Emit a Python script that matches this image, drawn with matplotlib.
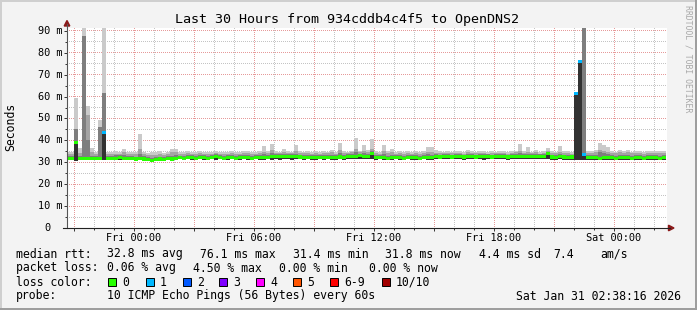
import numpy as np
import matplotlib
matplotlib.use('Agg')
import matplotlib.pyplot as plt
from matplotlib.colors import to_rgba
from matplotlib.lines import Line2D
from matplotlib.patches import Polygon, Rectangle

# ==============================================================================
# Data (hours relative to Fri 00:00, round-trip times in ms)
# ==============================================================================

BIN_START = -3.4
BIN_STEP = 0.2  # 12 minute consolidation steps

rtt_median = [
    31.8, 31.9, 39.0, 31.8, 31.9, 31.8, 31.7, 31.8, 31.9, 43.8,
    31.8, 31.9, 31.8, 32.0, 31.9, 31.8, 31.7, 31.5, 31.6, 31.5,
    31.1, 31.0, 31.2, 31.5, 31.4, 31.6, 31.5, 31.7, 32.0, 31.9,
    32.0, 32.1, 31.9, 32.0, 32.1, 31.9, 32.0, 32.6, 32.0, 31.9,
    32.0, 32.1, 31.9, 32.0, 32.2, 32.0, 31.9, 32.1, 32.0, 32.2,
    32.1, 32.6, 32.5, 32.7, 32.6, 32.5, 32.7, 32.6, 32.4, 32.2,
    32.3, 32.1, 32.2, 32.3, 32.1, 32.2, 32.3, 32.2, 32.4, 32.3,
    32.5, 32.8, 32.7, 32.9, 32.8, 32.7, 34.2, 32.1, 32.0, 32.1,
    31.9, 32.0, 32.1, 32.0, 31.9, 32.0, 32.1, 32.0, 31.9, 32.1,
    32.0, 32.2, 32.5, 32.4, 32.6, 32.5, 32.4, 32.6, 32.5, 32.4,
    32.5, 32.6, 32.4, 32.5, 32.6, 32.5, 32.4, 32.5, 32.6, 32.5,
    32.4, 32.5, 32.6, 32.7, 32.5, 32.6, 32.8, 32.6, 32.5, 32.7,
    34.0, 32.4, 32.3, 32.5, 32.4, 32.3, 32.4, 61.6, 75.8, 33.7,
    32.1, 32.0, 32.1, 31.9, 32.0, 32.1, 32.0, 31.9, 32.0, 32.1,
    32.0, 31.9, 32.0, 32.1, 31.9, 32.0, 32.1, 32.0, 31.9, 32.0,
]

rtt_min = [
    31.2, 31.1, 30.4, 31.2, 31.0, 31.1, 31.2, 31.1, 31.0, 31.0,
    31.2, 31.1, 31.2, 31.0, 31.1, 31.2, 31.0, 30.9, 31.0, 30.8,
    30.5, 30.4, 30.6, 30.9, 30.8, 31.0, 30.9, 31.1, 31.3, 31.2,
    31.3, 31.2, 31.1, 31.3, 31.2, 31.0, 31.3, 31.2, 31.3, 31.1,
    31.2, 31.3, 31.0, 31.2, 31.3, 31.2, 31.1, 31.3, 31.0, 31.2,
    31.3, 31.1, 31.4, 31.2, 31.3, 31.5, 31.2, 31.4, 31.3, 31.2,
    31.3, 31.1, 31.2, 31.4, 31.2, 31.3, 31.1, 31.2, 31.3, 31.2,
    31.4, 31.5, 31.3, 31.5, 31.4, 31.6, 31.3, 31.2, 31.3, 31.1,
    31.2, 31.0, 31.3, 31.2, 31.1, 31.3, 31.2, 31.0, 31.2, 31.3,
    31.1, 31.2, 31.4, 31.3, 31.5, 31.4, 31.3, 31.5, 31.4, 31.2,
    31.4, 31.5, 31.3, 31.4, 31.2, 31.5, 31.3, 31.4, 31.5, 31.3,
    31.2, 31.4, 31.5, 31.3, 31.4, 31.5, 31.6, 31.4, 31.3, 31.5,
    31.6, 31.2, 31.1, 31.3, 31.2, 31.1, 31.2, 31.0, 31.0, 31.0,
    31.2, 31.1, 31.2, 31.0, 31.1, 31.2, 31.1, 31.0, 31.2, 31.1,
    31.2, 31.0, 31.1, 31.2, 31.0, 31.1, 31.2, 31.1, 31.0, 31.2,
]

rtt_p8 = [
    32.9, 33.0, 45.0, 33.0, 87.7, 40.0, 33.0, 32.9, 46.3, 61.8,
    32.9, 33.0, 33.1, 33.2, 33.4, 32.9, 32.8, 32.6, 33.8, 32.7,
    32.2, 32.1, 32.3, 32.6, 32.5, 32.7, 33.0, 33.1, 33.0, 33.0,
    33.1, 33.2, 33.0, 33.1, 33.2, 33.0, 33.1, 33.6, 33.1, 33.0,
    33.1, 33.2, 33.0, 33.1, 33.3, 33.1, 33.0, 33.2, 33.1, 33.8,
    33.2, 34.2, 33.6, 33.8, 33.7, 33.6, 33.8, 34.0, 33.5, 33.3,
    33.4, 33.2, 33.3, 33.4, 33.2, 33.3, 33.5, 33.3, 34.2, 33.4,
    33.6, 33.9, 34.5, 34.0, 34.2, 33.8, 35.0, 33.2, 33.1, 33.8,
    33.0, 33.4, 33.2, 33.1, 33.0, 33.1, 33.2, 33.1, 33.0, 33.2,
    33.6, 33.5, 33.6, 33.5, 33.7, 33.6, 33.5, 33.7, 33.6, 33.5,
    33.8, 33.7, 33.5, 33.6, 33.7, 33.6, 33.5, 33.6, 33.7, 33.6,
    33.5, 33.6, 33.7, 34.4, 33.6, 34.0, 33.9, 33.8, 33.6, 33.8,
    34.8, 33.5, 33.4, 34.0, 33.5, 33.4, 33.5, 61.6, 75.8, 95.0,
    33.2, 33.1, 33.3, 34.6, 34.2, 33.8, 33.1, 33.0, 33.4, 33.2,
    33.3, 33.0, 33.1, 33.2, 33.0, 33.1, 33.2, 33.1, 33.0, 33.1,
]

rtt_p9 = [
    33.8, 33.9, 45.0, 34.2, 87.7, 51.6, 34.6, 33.8, 46.3, 61.8,
    33.7, 33.8, 34.0, 33.9, 34.6, 33.8, 33.9, 33.6, 36.0, 33.8,
    33.2, 33.4, 33.5, 33.8, 33.4, 33.9, 34.5, 34.6, 33.8, 34.0,
    34.1, 33.9, 33.8, 34.2, 34.0, 33.8, 34.0, 34.4, 33.9, 34.0,
    33.9, 34.1, 34.0, 33.9, 34.2, 34.1, 33.8, 34.0, 34.2, 34.8,
    34.1, 35.5, 34.3, 34.2, 34.8, 34.3, 34.1, 35.0, 34.4, 34.1,
    34.2, 34.0, 34.3, 34.0, 34.2, 34.1, 34.5, 34.0, 35.5, 34.3,
    34.2, 34.5, 36.0, 34.6, 35.0, 34.8, 36.0, 34.1, 33.9, 35.0,
    34.2, 34.6, 34.0, 34.3, 33.9, 34.1, 33.9, 34.2, 34.0, 34.1,
    34.8, 34.8, 34.4, 34.2, 34.1, 34.3, 34.1, 34.3, 34.2, 34.0,
    34.5, 34.2, 34.1, 34.3, 34.2, 34.0, 34.3, 34.1, 34.4, 34.2,
    34.0, 34.3, 34.5, 35.2, 34.2, 34.6, 34.1, 34.6, 34.0, 34.2,
    35.0, 34.3, 34.1, 34.8, 34.3, 34.2, 34.0, 61.6, 75.8, 95.0,
    34.2, 34.4, 34.5, 35.5, 35.0, 34.6, 34.3, 34.1, 34.6, 34.2,
    34.6, 34.1, 34.3, 34.2, 34.0, 34.3, 34.2, 34.4, 34.3, 34.4,
]

rtt_max = [
    34.8, 34.8, 59.4, 36.5, 95.0, 55.7, 36.7, 34.8, 49.3, 95.0,
    34.5, 34.6, 35.0, 34.7, 36.0, 34.6, 34.8, 34.5, 42.8, 34.9,
    34.4, 34.6, 34.5, 35.0, 34.3, 34.8, 36.0, 36.1, 34.6, 34.9,
    35.0, 34.7, 34.5, 35.2, 34.8, 34.6, 34.9, 35.3, 34.7, 34.8,
    34.6, 35.0, 34.8, 34.7, 35.1, 35.0, 34.6, 34.9, 35.2, 37.3,
    35.0, 38.4, 35.2, 34.9, 36.0, 35.1, 34.8, 37.8, 35.3, 34.9,
    35.0, 34.8, 35.2, 34.7, 35.0, 34.9, 35.5, 34.8, 39.0, 35.1,
    34.9, 35.2, 41.0, 35.3, 37.9, 35.6, 40.5, 35.0, 34.8, 38.0,
    35.1, 36.0, 34.9, 35.2, 34.8, 35.0, 34.7, 35.1, 34.9, 35.0,
    36.8, 36.8, 35.5, 35.0, 34.8, 35.2, 34.9, 35.1, 35.0, 34.8,
    35.5, 35.0, 34.9, 35.2, 35.0, 34.8, 35.1, 34.9, 35.2, 35.0,
    34.8, 35.1, 35.3, 38.4, 35.0, 36.8, 34.9, 35.5, 34.8, 35.0,
    36.4, 35.1, 34.9, 37.4, 35.2, 35.0, 34.8, 61.6, 75.8, 95.0,
    35.0, 35.2, 35.4, 38.7, 37.9, 37.0, 35.2, 34.9, 35.5, 35.0,
    35.5, 34.9, 35.1, 35.0, 34.8, 35.2, 35.0, 35.3, 35.1, 35.2,
]

loss_count = [
    0, 0, 0, 0, 0, 0, 0, 0, 0, 1,
    0, 0, 0, 0, 0, 0, 0, 0, 0, 0,
    0, 0, 0, 0, 0, 0, 0, 0, 0, 0,
    0, 0, 0, 0, 0, 0, 0, 0, 0, 0,
    0, 0, 0, 0, 0, 0, 0, 0, 0, 0,
    0, 0, 0, 0, 0, 0, 0, 0, 0, 0,
    0, 0, 0, 0, 0, 0, 0, 0, 0, 0,
    0, 0, 0, 0, 0, 0, 0, 0, 0, 0,
    0, 0, 0, 0, 0, 0, 0, 0, 0, 0,
    0, 0, 0, 0, 0, 0, 0, 0, 0, 0,
    0, 0, 0, 0, 0, 0, 0, 0, 0, 0,
    0, 0, 0, 0, 0, 0, 0, 0, 0, 0,
    0, 0, 0, 0, 0, 0, 0, 1, 1, 1,
    0, 0, 0, 0, 0, 0, 0, 0, 0, 0,
    0, 0, 0, 0, 0, 0, 0, 0, 0, 0,
]

title = 'Last 30 Hours from 934cddb4c4f5 to OpenDNS2'
x_tick_hours = [0, 6, 12, 18, 24]
x_tick_labels = ['Fri 00:00', 'Fri 06:00', 'Fri 12:00', 'Fri 18:00', 'Sat 00:00']
y_tick_values = [0, 10, 20, 30, 40, 50, 60, 70, 80, 90]

loss_labels = ['0', '1', '2', '3', '4', '5', '6-9', '10/10']
loss_colors = ['#26ff00', '#00b8ff', '#0059ff', '#7e00ff',
               '#ff00ff', '#ff5500', '#ff0000', '#a10000']

rtt_row = [('median rtt:', 16), ('32.8 ms avg', 107), ('76.1 ms max', 200),
           ('31.4 ms min', 293), ('31.8 ms now', 385), ('4.4 ms sd', 479),
           ('7.4', 553), ('am/s', 600)]
loss_row = [('packet loss:', 16), ('0.06 % avg', 107), ('4.50 % max', 193),
            ('0.00 % min', 279), ('0.00 % now', 369)]
probe_text = '10 ICMP Echo Pings (56 Bytes) every 60s'
stamp_text = 'Sat Jan 31 02:38:16 2026'

# ==============================================================================
# Style
# ==============================================================================

W, H = 697, 310
MONO = 'DejaVu Sans Mono'
BACK = '#f3f3f3'
GRID = '#c4c4c4'
MGRID = '#e69a9a'
ARROW = '#8b1a1a'
SMOKE = ['#323232', '#7e7e7e', '#a4a4a4', '#cacaca']
BAND = 1.4  # height of the median band, ms
XLIM = (-3.35, 26.65)
YLIM = (0, 91.3)


def fx(x):
    return x / W


def fy(y):
    return 1 - y / H


def loss_index(k):
    if k >= 10:
        return 7
    return min(k, 6)


fig = plt.figure(figsize=(W / 100, H / 100), dpi=100, facecolor=BACK)

ax = fig.add_axes([fx(67), fy(228), 600 / W, 200 / H])
ax.set_facecolor('white')
ax.set_xlim(*XLIM)
ax.set_ylim(*YLIM)
for spine in ax.spines.values():
    spine.set_visible(False)

# grid: rrdtool style 1px on / 1px off dots, rasterised pixel by pixel
bbox = ax.bbox
ncols, nrows = int(round(bbox.width)), int(round(bbox.height))
grid_img = np.zeros((nrows, ncols, 4))


def grid_col(h):
    return int(ax.transData.transform((h, 0))[0] - bbox.x0)


def grid_row(v):
    return int(bbox.y1 - ax.transData.transform((0, v))[1])


for major in (False, True):
    rgba = to_rgba(MGRID if major else GRID)
    for h in range(-3, 27):
        if (h % 3 == 0) == major:
            c = grid_col(h)
            if 0 <= c < ncols:
                grid_img[::2, c] = rgba
    for v in range(5, 91, 5):
        if (v % 10 == 0) == major:
            r = grid_row(v)
            if 0 <= r < nrows:
                grid_img[r, ::2] = rgba

ax.imshow(grid_img, extent=(*XLIM, *YLIM), origin='upper', aspect='auto',
          interpolation='nearest', zorder=0.5)
ax.set_xlim(*XLIM)
ax.set_ylim(*YLIM)

# smoke
edges = BIN_START + BIN_STEP * np.arange(len(rtt_median) + 1)
median = np.array(rtt_median)
layers = [rtt_min, rtt_median, rtt_p8, rtt_p9, rtt_max]
for k, color in enumerate(SMOKE):
    ax.stairs(layers[k + 1], edges, baseline=layers[k], fill=True,
              color=color, lw=0, zorder=2)

# median band coloured by loss
band_colors = [loss_colors[loss_index(k)] for k in loss_count]
ax.bar(edges[:-1], BAND, bottom=median - BAND / 2, width=BIN_STEP,
       align='edge', color=band_colors, linewidth=0, zorder=3)

# ticks
ax.set_xticks(range(-3, 27, 3))
ax.set_xticks(range(-3, 27), minor=True)
ax.set_yticks(range(0, 91, 10))
ax.set_yticks(range(5, 91, 10), minor=True)
ax.tick_params(which='major', length=2.2, width=0.7, color='#333333',
               labelbottom=False, labelleft=False)
ax.tick_params(which='minor', length=1.4, width=0.7, color='#333333')

for h, label in zip(x_tick_hours, x_tick_labels):
    ax.annotate(label, xy=(h, 0), xycoords=('data', 'axes fraction'),
                xytext=(0, -10), textcoords='offset pixels',
                ha='center', va='center', fontsize=7.4, family=MONO)
for v in y_tick_values:
    label = '%d m' % v if v else '0  '
    ax.annotate(label, xy=(0, v), xycoords=('axes fraction', 'data'),
                xytext=(-4, 0), textcoords='offset pixels',
                ha='right', va='center', fontsize=7.4, family=MONO)

# axes with arrows
fig.add_artist(Line2D([fx(67), fx(67)], [fy(228), fy(24)], color='#555555', lw=0.8))
fig.add_artist(Line2D([fx(63), fx(670)], [fy(228), fy(228)], color='#222222', lw=0.8))
fig.add_artist(Polygon([(fx(67), fy(20.5)), (fx(64.2), fy(26)), (fx(69.8), fy(26))],
                       closed=True, color=ARROW, transform=fig.transFigure))
fig.add_artist(Polygon([(fx(674), fy(228)), (fx(668.5), fy(225.2)), (fx(668.5), fy(230.8))],
                       closed=True, color=ARROW, transform=fig.transFigure))

# texts
fig.text(fx(347), fy(20), title, ha='center', va='center', fontsize=9.6, family=MONO)
fig.text(fx(11), fy(127), 'Seconds', rotation=90, ha='center', va='center',
         fontsize=8.3, family=MONO)
fig.text(fx(688), fy(59), 'RRDTOOL / TOBI OETIKER', rotation=270, ha='center',
         va='center', fontsize=5.9, family=MONO, color='#a8a8a8')

for text, x in rtt_row:
    fig.text(fx(x), fy(254), text, ha='left', va='center', fontsize=8.3, family=MONO)
for text, x in loss_row:
    fig.text(fx(x), fy(268), text, ha='left', va='center', fontsize=8.3, family=MONO)

fig.text(fx(16), fy(282), 'loss color:', ha='left', va='center', fontsize=8.3, family=MONO)
box_x = [108, 146, 183, 219, 256, 293, 330, 382]
for bx, label, color in zip(box_x, loss_labels, loss_colors):
    fig.add_artist(Rectangle((fx(bx), fy(286)), 8 / W, 8 / H, facecolor=color,
                             edgecolor='black', lw=0.7, transform=fig.transFigure))
    fig.text(fx(bx + 14), fy(282), label, ha='left', va='center', fontsize=8.3, family=MONO)

fig.text(fx(16), fy(296), 'probe:', ha='left', va='center', fontsize=8.3, family=MONO)
fig.text(fx(107), fy(296), probe_text, ha='left', va='center', fontsize=8.3, family=MONO)
fig.text(fx(681), fy(296), stamp_text, ha='right', va='center', fontsize=8.3, family=MONO)

# 3D frame
fig.add_artist(Rectangle((0, fy(2)), 1, 2 / H, color='#cfcfcf', lw=0, transform=fig.transFigure))
fig.add_artist(Rectangle((0, 0), 2 / W, 1, color='#cfcfcf', lw=0, transform=fig.transFigure))
fig.add_artist(Rectangle((0, 0), 1, 2 / H, color='#9e9e9e', lw=0, transform=fig.transFigure))
fig.add_artist(Rectangle((fx(695), 0), 2 / W, 1, color='#9e9e9e', lw=0, transform=fig.transFigure))

fig.savefig('out.png', dpi=100, facecolor=BACK)
